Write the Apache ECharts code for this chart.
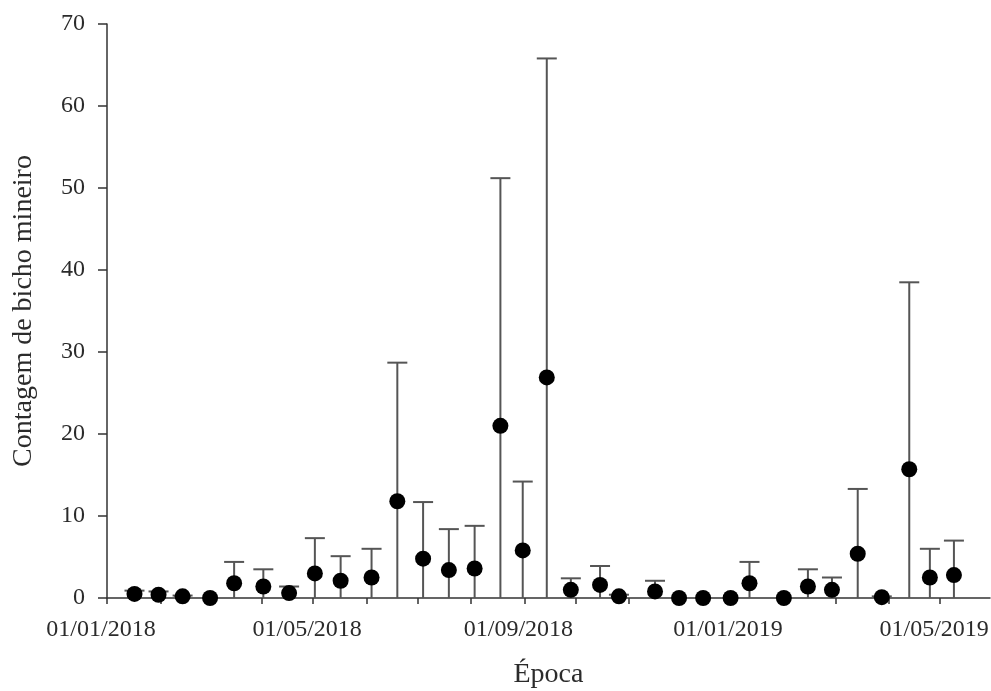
<!DOCTYPE html>
<html>
<head>
<meta charset="utf-8">
<script src="https://cdn.jsdelivr.net/npm/echarts@6/dist/echarts.min.js"></script>
<style>html,body{margin:0;padding:0;background:#fff;overflow:hidden}#c{width:991px;height:691px}</style>
</head>
<body>
<div id="c"></div>
<script>
const sampleDates = ['2018-01-17','2018-01-31','2018-02-14','2018-03-02','2018-03-16','2018-04-02','2018-04-17','2018-05-02','2018-05-17','2018-06-04','2018-06-19','2018-07-04','2018-07-19','2018-08-03','2018-08-18','2018-08-31','2018-09-14','2018-09-28','2018-10-15','2018-10-26','2018-11-16','2018-11-30','2018-12-14','2018-12-30','2019-01-10','2019-01-30','2019-02-13','2019-02-27','2019-03-14','2019-03-28','2019-04-13','2019-04-25','2019-05-09'];
const means = [0.5,0.4,0.2,0.0,1.8,1.4,0.6,3.0,2.1,2.5,11.8,4.8,3.4,3.6,21.0,5.8,26.9,1.0,1.6,0.2,0.8,0,0,0,1.8,0,1.4,1.0,5.4,0.1,15.7,2.5,2.8];
const errors = [0.4,0.4,0.1,0,2.6,2.1,0.8,4.3,3.0,3.5,16.9,6.9,5.0,5.2,30.2,8.4,38.9,1.4,2.3,0.2,1.3,0,0,0,2.6,0,2.1,1.5,7.9,0.1,22.8,3.5,4.2];
const tickMonths = ['2018-01-01','2018-02-01','2018-03-01','2018-04-01','2018-05-01','2018-06-01','2018-07-01','2018-08-01','2018-09-01','2018-10-01','2018-11-01','2018-12-01','2019-01-01','2019-02-01','2019-03-01','2019-04-01','2019-05-01'];
const labelDates = ['2018-01-01','2018-05-01','2018-09-01','2019-01-01','2019-05-01'];
const xMin = '2018-01-01', xMax = '2019-05-30';
const yTicks = [0,10,20,30,40,50,60,70];

function ts(s){const p=s.split('-').map(Number);return new Date(p[0],p[1]-1,p[2]).getTime();}
function pad(n){return (n<10?'0':'')+n;}
function fmt(v){const d=new Date(v);return pad(d.getDate())+'/'+pad(d.getMonth()+1)+'/'+d.getFullYear();}

const pts = sampleDates.map((d,i)=>[ts(d),means[i],errors[i]]);
const font = '"Liberation Serif","Times New Roman",serif';
const textColor = '#2b2b2b';

const chart = echarts.init(document.getElementById('c'));
chart.setOption({
  animation:false,
  backgroundColor:'#fff',
  grid:{left:107,right:1,top:24,bottom:93,containLabel:false,outerBoundsMode:'none'},
  xAxis:{
    type:'value', min:ts(xMin), max:ts(xMax),
    name:'Época', nameLocation:'middle', nameGap:63,
    nameTextStyle:{fontFamily:font,fontSize:28,color:textColor},
    axisLine:{show:true,onZero:false,lineStyle:{color:'#333',width:1.5}},
    axisTick:{show:true,inside:false,length:6,customValues:tickMonths.map(ts),lineStyle:{color:'#333',width:1.5}},
    axisLabel:{customValues:labelDates.map(ts),formatter:fmt,margin:20,padding:[0,12,0,0],fontFamily:font,fontSize:24,color:textColor,showMinLabel:true,showMaxLabel:true},
    splitLine:{show:false}
  },
  yAxis:{
    type:'value', min:0, max:70, interval:10,
    name:'Contagem de bicho mineiro', nameLocation:'middle', nameGap:69, nameRotate:90,
    nameTextStyle:{fontFamily:font,fontSize:28,color:textColor},
    axisLine:{show:true,lineStyle:{color:'#333',width:1.5}},
    axisTick:{show:true,length:9,lineStyle:{color:'#333',width:1.5}},
    axisLabel:{margin:22,fontFamily:font,fontSize:24,color:textColor,customValues:yTicks},
    splitLine:{show:false}
  },
  series:[
    {
      type:'custom',
      data:pts,
      z:2,
      renderItem:function(params,api){
        const x=api.value(0), m=api.value(1), e=api.value(2);
        if(!(e>0)) return null;
        const top=api.coord([x,m+e]);
        const bot=api.coord([x,Math.max(0,m-e)]);
        const half=10;
        const st={stroke:'#555',lineWidth:2};
        return {type:'group',children:[
          {type:'line',shape:{x1:top[0],y1:top[1],x2:bot[0],y2:bot[1]},style:st},
          {type:'line',shape:{x1:top[0]-half,y1:top[1],x2:top[0]+half,y2:top[1]},style:st}
        ]};
      }
    },
    {
      type:'scatter',
      data:pts.map(p=>[p[0],p[1]]),
      symbol:'circle', symbolSize:16,
      itemStyle:{color:'#000',opacity:1},
      z:3
    }
  ]
});
</script>
</body>
</html>
